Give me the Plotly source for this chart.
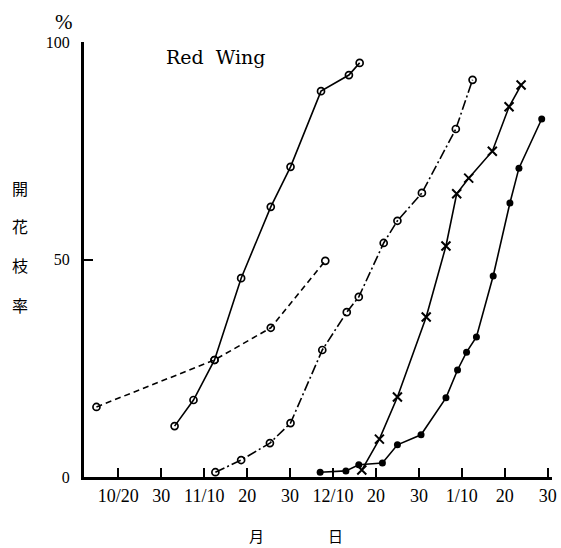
import plotly.graph_objects as go

# x = days counted from Oct 20 on the chart's 10-day tick scale
tick_pos = [0, 10, 20, 30, 40, 50, 60, 70, 80, 90, 100]
tick_text = ["10/20", "30", "11/10", "20", "30", "12/10", "20", "30", "1/10", "20", "30"]

s1_x = [-5.1, 22.4, 35.5, 48.2]
s1_y = [16.1, 26.9, 34.3, 49.7]

s2_x = [13.1, 17.5, 22.4, 28.6, 35.5, 40.1, 47.2, 53.7, 56.2]
s2_y = [11.7, 17.7, 26.9, 45.7, 62.1, 71.3, 88.7, 92.4, 95.2]

s3_x = [22.6, 28.6, 35.3, 40.1, 47.5, 53.2, 56.0, 61.8, 65.0, 70.7, 78.6, 82.5]
s3_y = [1.1, 3.9, 7.8, 12.4, 29.2, 37.9, 41.4, 53.8, 58.9, 65.3, 80.0, 91.3]

s4_x = [56.7, 60.8, 65.0, 71.7, 76.3, 78.8, 81.6, 87.1, 91.0, 93.8]
s4_y = [1.6, 8.7, 18.4, 36.8, 53.1, 65.1, 68.7, 74.9, 85.1, 90.1]

s5_x = [47.0, 53.0, 56.0, 61.5, 65.0, 70.5, 76.3, 79.0, 81.1, 83.4, 87.3, 91.2, 93.3, 98.6]
s5_y = [1.1, 1.4, 2.8, 3.2, 7.4, 9.7, 18.2, 24.6, 28.7, 32.2, 46.2, 63.0, 71.0, 82.3]

fig = go.Figure()
open_marker = dict(symbol="circle-open", size=7, color="black", line=dict(width=1.7, color="black"))

fig.add_trace(go.Scatter(x=s1_x, y=s1_y, mode="lines+markers",
                         line=dict(color="black", width=1.6, dash="6px,4px"), marker=open_marker))
fig.add_trace(go.Scatter(x=s2_x, y=s2_y, mode="lines+markers",
                         line=dict(color="black", width=1.6), marker=open_marker))
fig.add_trace(go.Scatter(x=s3_x, y=s3_y, mode="lines+markers",
                         line=dict(color="black", width=1.6, dash="10px,3px,2px,3px"), marker=open_marker))
fig.add_trace(go.Scatter(x=s4_x, y=s4_y, mode="lines+markers",
                         line=dict(color="black", width=1.6),
                         marker=dict(symbol="x-thin", size=9, color="black", line=dict(width=2, color="black"))))
fig.add_trace(go.Scatter(x=s5_x, y=s5_y, mode="lines+markers",
                         line=dict(color="black", width=1.6),
                         marker=dict(symbol="circle", size=7, color="black")))

serif = "Liberation Serif"
wide_serif = "DejaVu Serif"
cjk = "Noto Sans CJK JP"

fig.update_layout(
    width=561, height=548,
    margin=dict(l=84, r=4, t=42, b=71),
    paper_bgcolor="white", plot_bgcolor="white",
    showlegend=False,
    font=dict(family=serif, color="black", size=15),
    xaxis=dict(range=[-8, 101], tickvals=tick_pos, ticktext=tick_text,
               ticks="inside", ticklen=9, tickwidth=2, tickcolor="black",
               showline=True, linecolor="black", linewidth=3,
               showgrid=False, zeroline=False, ticklabeloverflow="allow",
               tickfont=dict(family=serif, size=18)),
    yaxis=dict(range=[0, 100], tickvals=[0, 50, 100], ticktext=["0", "50", "100"],
               ticks="inside", ticklen=9, tickwidth=2, tickcolor="black",
               showline=True, linecolor="black", linewidth=3,
               showgrid=False, zeroline=False, ticklabelstandoff=8,
               tickfont=dict(family=serif, size=16)),
)

annotations = [
    dict(text="%", x=64, y=22, font=dict(family=serif, size=21)),
    dict(text="Red  Wing", x=217, y=57, font=dict(family=wide_serif, size=19)),
    dict(text="開", x=19, y=188, font=dict(family=cjk, size=16)),
    dict(text="花", x=19, y=226, font=dict(family=cjk, size=16)),
    dict(text="枝", x=19, y=265, font=dict(family=cjk, size=16)),
    dict(text="率", x=19, y=305, font=dict(family=cjk, size=16)),
    dict(text="月", x=258, y=535, font=dict(family=cjk, size=15)),
    dict(text="日", x=338, y=535, font=dict(family=cjk, size=15)),
]
# pixel positions converted to plot-area (paper) coordinates
for a in annotations:
    fig.add_annotation(text=a["text"],
                       x=(a["x"] - 84) / (561 - 84 - 4),
                       y=(548 - 71 - a["y"]) / (548 - 42 - 71),
                       xref="paper", yref="paper", showarrow=False,
                       xanchor="center", yanchor="middle", font=a["font"])

fig.write_html("out.html")
